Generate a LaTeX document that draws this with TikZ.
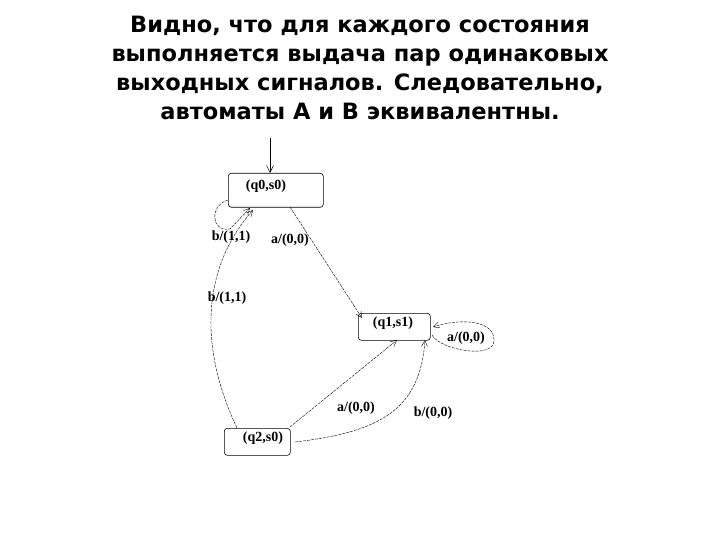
\documentclass[tikz,border=0pt]{standalone}
\usepackage{fontspec}
\setmainfont{DejaVu Sans}
\newfontfamily\lblfont{Liberation Serif}
\usetikzlibrary{arrows.meta}
\begin{document}
\begin{tikzpicture}[x=1pt,y=-1pt,
  st/.style={draw,rounded corners=3pt,line width=0.6pt,anchor=north west,inner sep=0pt},
  tr/.style={draw,line width=0.4pt,dash pattern=on 3pt off 1pt,-{Straight Barb[length=6pt,width=6pt]}},
  lb/.style={font=\lblfont\bfseries\fontsize{14}{14}\selectfont,inner sep=1pt},
  ttl/.style={font=\bfseries\fontsize{22.5}{29}\selectfont,align=center}]
\useasboundingbox (0,0) rectangle (720,540);
\node[ttl] (title) at (360,68) {Видно, что для каждого состояния\\выполняется выдача пар одинаковых\\выходных сигналов. Следовательно,\\автоматы А и В эквивалентны.};
\node[st,minimum width=95pt,minimum height=34pt] (q0) at (228,173) {};
\node[lb] (q0t) at (266,186) {(q0,s0)};
\node[st,minimum width=72pt,minimum height=27pt] (q1) at (358,313) {};
\node[lb] (q1t) at (393,323) {(q1,s1)};
\node[st,minimum width=66pt,minimum height=27pt] (q2) at (224,428) {};
\node[lb] (q2t) at (263,438) {(q2,s0)};
\coordinate (init) at (270,138);
\draw[line width=0.5pt,-{Straight Barb[length=7pt,width=7pt]}] (init) -- (270,173);
\draw[tr] (228,200) .. controls (210,205) and (210,232) .. (230,229) -- (250,208);
\node[lb] (l1) at (231,237) {b/(1,1)};
\draw[tr] (290,207) -- (362,318);
\node[lb] (l2) at (290,240) {a/(0,0)};
\draw[tr] (237,428) .. controls (200,350) and (200,270) .. (253,210);
\node[lb] (l3) at (227,298) {b/(1,1)};
\draw[tr] (290,427) -- (397,340);
\node[lb] (l4) at (356,408) {a/(0,0)};
\draw[tr] (295,442) .. controls (380,432) and (420,410) .. (425,340);
\node[lb] (l5) at (433,413) {b/(0,0)};
\draw[tr] (432,335) .. controls (440,350) and (495,360) .. (494,340) .. controls (494,320) and (460,318) .. (433,327);
\node[lb] (l6) at (466,338) {a/(0,0)};
\end{tikzpicture}
\end{document}
